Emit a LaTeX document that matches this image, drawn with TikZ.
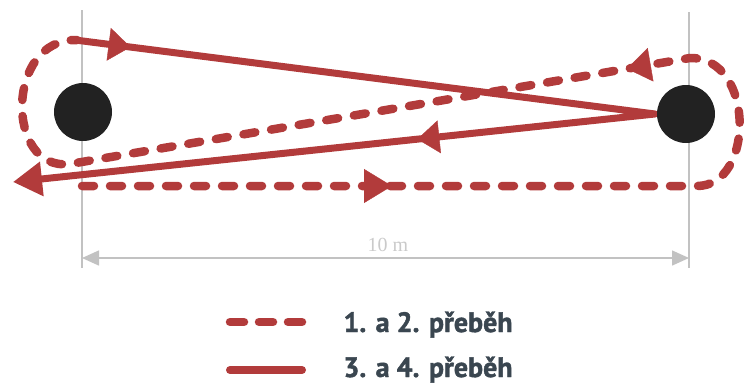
\documentclass[tikz,border=0pt]{standalone}
\usepackage{fontspec}
\usetikzlibrary{arrows.meta,decorations.markings}
\definecolor{runred}{HTML}{B23B3B}
\definecolor{guide}{HTML}{C2C2C2}
\definecolor{dimtext}{HTML}{CACACA}
\definecolor{legtext}{HTML}{3A4650}
\definecolor{conecol}{HTML}{222222}
\newfontfamily\legfont{PT Sans}[BoldFeatures={FakeBold=1.5}]
\newfontfamily\dimfont{Liberation Serif}
\begin{document}
\begin{tikzpicture}[x=1pt,y=-1pt,
  guideline/.style={guide, line width=1.5pt},
  solidrun/.style={runred, line width=7pt},
  dashrun/.style={runred, line width=8.5pt, line cap=round, dash pattern=on 12pt off 16pt},
  cone/.style={circle, fill=conecol, minimum size=58pt, inner sep=0pt},
  legendlabel/.style={anchor=base west, legtext, font=\legfont\bfseries\fontsize{28}{28}\selectfont},
]
\useasboundingbox (0,0) rectangle (744,383);
% guide lines
\coordinate (gl1) at (82,10);
\coordinate (gl2) at (82,268);
\coordinate (gr1) at (689,12);
\coordinate (gr2) at (689,268);
\coordinate (m1) at (82,258);
\coordinate (m2) at (689,258);
\draw[guideline] (gl1) -- (gl2);
\draw[guideline] (gr1) -- (gr2);
\draw[guideline, {Triangle[length=17pt,width=15pt]}-{Triangle[length=17pt,width=15pt]}] (m1) -- (m2);
\node[dimtext, font=\dimfont\fontsize{20}{20}\selectfont] (dim) at (388,245) {10 m};
% dashed run
\coordinate (d0) at (82,186);
\coordinate (d1) at (697,186);
\coordinate (d2) at (690,58);
\coordinate (d3) at (70,164);
\coordinate (d4) at (77,40);
\draw[dashrun] (d0) -- (d1) .. controls (755,186) and (755,57) .. (d2) -- (d3) .. controls (5,172) and (5,38) .. (d4);
\path[decoration={markings, mark=at position 310pt with {\arrow[runred]{Triangle[length=28pt,width=34pt]}}}, decorate] (d0) -- (d1);
\path[decoration={markings, mark=at position 64pt with {\arrow[runred]{Triangle[length=24pt,width=34pt]}}}, decorate] (d2) -- (d3);
% solid run
\coordinate (s0) at (75,40);
\coordinate (s1) at (655,114);
\coordinate (s2) at (13,182);
\draw[solidrun, line join=round, -{Triangle[length=29pt,width=33pt]}] (s0) -- (s1) -- (s2);
\path[decoration={markings, mark=at position 56pt with {\arrow[runred]{Triangle[length=22pt,width=33pt]}}}, decorate] (s0) -- (s1);
\path[decoration={markings, mark=at position 239pt with {\arrow[runred]{Triangle[length=22pt,width=33pt]}}}, decorate] (s1) -- (s2);
% cones
\node[cone] (L) at (83,112) {};
\node[cone] (R) at (686,114) {};
% legend
\coordinate (la) at (230,322);
\coordinate (lb) at (302,322);
\coordinate (lc) at (230,370);
\coordinate (ld) at (302,370);
\draw[dashrun, dash pattern=on 14pt off 15pt] (la) -- (lb);
\draw[solidrun, line width=8pt, line cap=round] (lc) -- (ld);
\node[legendlabel] (t1) at (340,332) {1. a 2. přeběh};
\node[legendlabel] (t2) at (340,377) {3. a 4. přeběh};
\end{tikzpicture}
\end{document}
